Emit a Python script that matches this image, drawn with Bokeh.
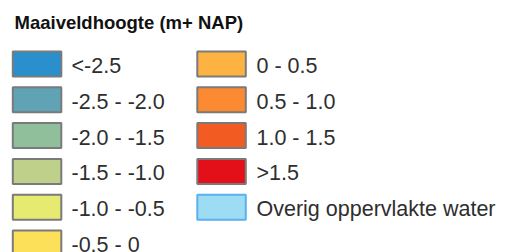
from bokeh.plotting import figure
from bokeh.models import Range1d, ColumnDataSource
from bokeh.core.properties import value
from bokeh.embed import file_html
from bokeh.resources import INLINE

title = "Maaiveldhoogte (m+ NAP)"
labels = ["<-2.5", "-2.5 - -2.0", "-2.0 - -1.5", "-1.5 - -1.0", "-1.0 - -0.5", "-0.5 - 0",
          "0 - 0.5", "0.5 - 1.0", "1.0 - 1.5", ">1.5", "Overig oppervlakte water"]
fills = ["#2a8fcd", "#5fa3b5", "#8fbf9b", "#bed08a", "#e6ea70", "#fde05a",
         "#fdb242", "#fb8a33", "#f25b22", "#e41019", "#9ddcf3"]
borders = ["#7a7a7a"] * 10 + ["#5bb0f0"]

W, H = 515, 252
ROWS = 6
pitch = 35.8
top0 = 51.0
sw_w, sw_h = 48.5, 25.0
col_x = [12.3, 196.8]
txt_x = [71.0, 256.0]

xs, ys, tx, ty = [], [], [], []
for i in range(len(labels)):
    c, r = divmod(i, ROWS)
    cy = top0 + r * pitch + sw_h / 2
    xs.append(col_x[c] + sw_w / 2)
    ys.append(cy)
    tx.append(txt_x[c])
    ty.append(cy + 2.0)

src = ColumnDataSource(dict(x=xs, y=ys, tx=tx, ty=ty, label=labels, fill=fills, border=borders))

p = figure(width=W, height=H, output_backend="svg", toolbar_location=None,
           x_range=Range1d(0, W), y_range=Range1d(H, 0), min_border=0)
p.axis.visible = False
p.grid.visible = False
p.outline_line_color = None
p.background_fill_color = "white"
p.border_fill_color = "white"

p.rect(x="x", y="y", width=sw_w, height=sw_h, fill_color="fill", line_color="border",
       line_width=2, source=src)
p.text(x="tx", y="ty", text="label", source=src, text_font=value("Liberation Sans"),
       text_font_size="21.5px", text_color="#2e2e2e", text_baseline="middle")
p.text(x=[14], y=[21.5], text=[title], text_font=value("Liberation Sans"),
       text_font_size="18.5px", text_font_style="bold", text_color="#111111",
       text_baseline="middle")

open("out.html", "w").write(file_html(p, INLINE))
